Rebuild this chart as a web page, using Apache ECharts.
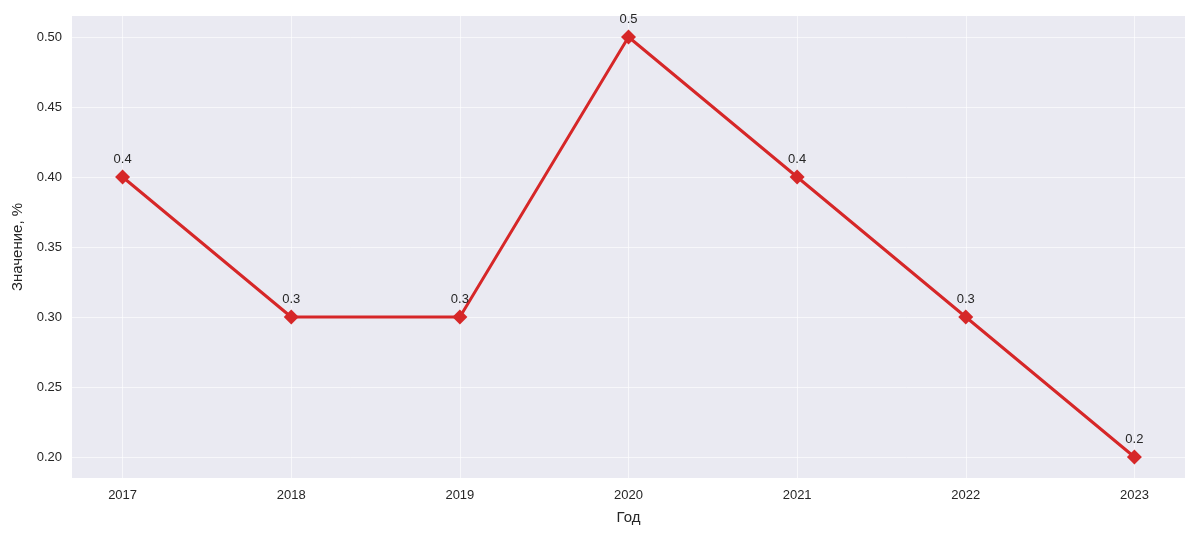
<!DOCTYPE html>
<html><head><meta charset="utf-8">
<script src="https://cdn.jsdelivr.net/npm/echarts@6/dist/echarts.min.js"></script>
<style>html,body{margin:0;padding:0;background:#fff}#c{width:1200px;height:538px}</style>
</head><body><div id="c"></div>
<script>
const years = [2017, 2018, 2019, 2020, 2021, 2022, 2023];
const values = [0.4, 0.3, 0.3, 0.5, 0.4, 0.3, 0.2];
const yTicks = [0.20, 0.25, 0.30, 0.35, 0.40, 0.45, 0.50];
const xTitle = 'Год';
const yTitle = 'Значение, %';

const font = 'Liberation Sans, Arial, sans-serif';
const chart = echarts.init(document.getElementById('c'), null, {renderer: 'canvas'});
chart.setOption({
  animation: false,
  grid: {left: 72, right: 15, top: 16, bottom: 60, show: true, backgroundColor: '#EAEAF2', borderWidth: 0},
  xAxis: {
    type: 'value', min: 2016.7, max: 2023.3,
    name: xTitle, nameLocation: 'middle', nameGap: 32,
    nameTextStyle: {fontFamily: font, fontSize: 15, color: '#262626'},
    axisLine: {show: false}, axisTick: {show: false, customValues: years},
    axisLabel: {customValues: years, fontFamily: font, fontSize: 13, color: '#262626', margin: 11, formatter: v => String(v)},
    splitLine: {show: true, lineStyle: {color: 'rgba(255,255,255,0.6)', width: 1}}
  },
  yAxis: {
    type: 'value', min: 0.185, max: 0.515,
    name: yTitle, nameLocation: 'middle', nameGap: 39,
    nameTextStyle: {fontFamily: font, fontSize: 15, color: '#262626'},
    axisLine: {show: false}, axisTick: {show: false, customValues: yTicks},
    axisLabel: {customValues: yTicks, fontFamily: font, fontSize: 13, color: '#262626', margin: 10, formatter: v => v.toFixed(2)},
    splitLine: {show: true, lineStyle: {color: 'rgba(255,255,255,0.6)', width: 1}}
  },
  series: [{
    type: 'line',
    data: years.map((y, i) => [y, values[i]]),
    symbol: 'diamond', symbolSize: 15,
    lineStyle: {color: '#d62728', width: 3},
    itemStyle: {color: '#d62728'},
    label: {show: true, position: 'top', distance: 4, fontFamily: font, fontSize: 13, color: '#262626', formatter: p => String(p.value[1])}
  }]
});
</script></body></html>
